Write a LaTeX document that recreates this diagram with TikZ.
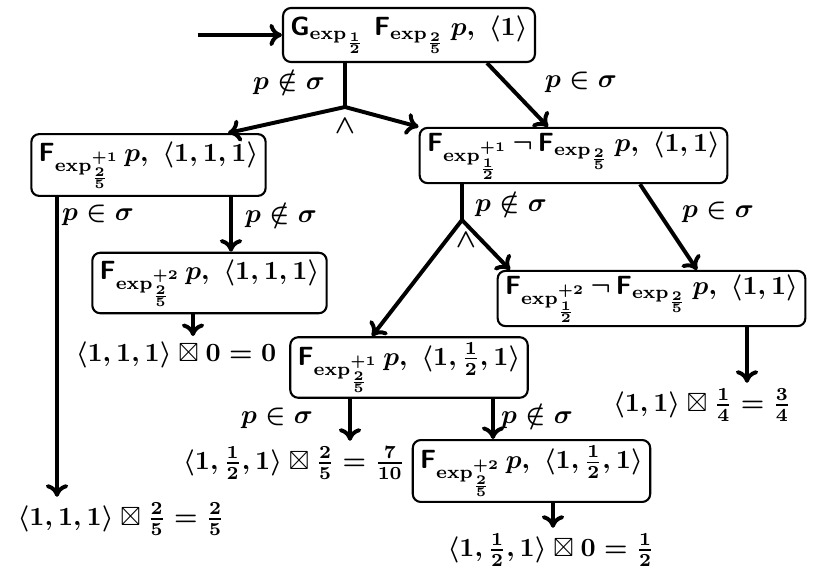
\documentclass[tikz,border=0pt]{standalone}
\usepackage{amssymb}
\usetikzlibrary{arrows.meta}
\begin{document}
\begin{tikzpicture}[x=0.38pt,y=-0.38pt,font=\boldmath,
  box/.style={draw,rounded corners=3pt,line width=0.8pt,inner xsep=2.8pt,inner ysep=1pt},
  res/.style={inner sep=2pt},
  lbl/.style={inner sep=0pt},
  ln/.style={line width=1.5pt},
  arr/.style={line width=1.5pt,-{To[length=4.8pt,width=8.5pt]}}]
\useasboundingbox (0,0) rectangle (830,587);
% nodes
\node[box,minimum height=20.5pt] (T) at (409,35) {$\mathsf{G}_{\exp_{\frac12}}\ \mathsf{F}_{\exp_{\frac25}}\,p,\ \langle 1\rangle$};
\node[box,minimum height=23.5pt] (L1) at (148.5,165) {$\mathsf{F}_{\exp^{+1}_{\frac25}}\,p,\ \langle 1,1,1\rangle$};
\node[box,minimum height=21pt] (R1) at (573.5,155.5) {$\mathsf{F}_{\exp^{+1}_{\frac12}}\,\neg\,\mathsf{F}_{\exp_{\frac25}}\,p,\ \langle 1,1\rangle$};
\node[box,minimum height=23pt] (L2) at (209.5,283) {$\mathsf{F}_{\exp^{+2}_{\frac25}}\,p,\ \langle 1,1,1\rangle$};
\node[box,minimum height=21pt] (R2) at (651.5,298.5) {$\mathsf{F}_{\exp^{+2}_{\frac12}}\,\neg\,\mathsf{F}_{\exp_{\frac25}}\,p,\ \langle 1,1\rangle$};
\node[box,minimum height=23pt] (M1) at (409,367.5) {$\mathsf{F}_{\exp^{+1}_{\frac25}}\,p,\ \langle 1,\frac12,1\rangle$};
\node[box,minimum height=23.5pt] (M2) at (531.5,471) {$\mathsf{F}_{\exp^{+2}_{\frac25}}\,p,\ \langle 1,\frac12,1\rangle$};
% results
\node[res] (r1) at (176,355) {$\langle 1,1,1\rangle\boxtimes 0 = 0$};
\node[res] (r2) at (121,519) {$\langle 1,1,1\rangle\boxtimes \frac25 = \frac25$};
\node[res] (r3) at (294,463) {$\langle 1,\frac12,1\rangle\boxtimes \frac25 = \frac{7}{10}$};
\node[res] (r4) at (702,405) {$\langle 1,1\rangle\boxtimes \frac14 = \frac34$};
\node[res] (r5) at (551,550) {$\langle 1,\frac12,1\rangle\boxtimes 0 = \frac12$};
% labels
\node[lbl] (l1) at (289,82) {$p\notin\sigma$};
\node[lbl] (l2) at (581,82) {$p\in\sigma$};
\node[lbl] (l3) at (98,215) {$p\in\sigma$};
\node[lbl] (l4) at (281,215) {$p\notin\sigma$};
\node[lbl] (l5) at (511,204) {$p\notin\sigma$};
\node[lbl] (l6) at (718,212) {$p\in\sigma$};
\node[lbl] (l7) at (277,418) {$p\in\sigma$};
\node[lbl] (l8) at (537,416) {$p\notin\sigma$};
\node[lbl] (w1) at (345,126) {$\wedge$};
\node[lbl] (w2) at (466,240) {$\wedge$};
% junctions
\coordinate (J1) at (345,107);
\coordinate (J2) at (462,220);
\coordinate (S) at (198,35);
% edges
\draw[arr] (S) -- (T.west);
\draw[ln] (T.south -| J1) -- (J1);
\draw[arr] (J1) -- (L1.north -| 228,0);
\draw[arr] (J1) -- (R1.north west);
\draw[arr] (T.south -| 487,0) -- (R1.north -| 548,0);
\draw[arr] (L1.south -| 57,0) -- (r2.north -| 57,0);
\draw[arr] (L1.south -| 231,0) -- (L2.north -| 231,0);
\draw[arr] (L2.south -| 193,0) -- (r1.north -| 193,0);
\draw[ln] (R1.south -| J2) -- (J2);
\draw[arr] (J2) -- (M1.north -| 372,0);
\draw[arr] (J2) -- (R2.north -| 510,0);
\draw[arr] (R1.south -| 640,0) -- (R2.north -| 697,0);
\draw[arr] (R2.south -| 747,0) -- (r4.north -| 747,0);
\draw[arr] (M1.south -| 350,0) -- (r3.north -| 350,0);
\draw[arr] (M1.south -| 493,0) -- (M2.north -| 493,0);
\draw[arr] (M2.south -| 553,0) -- (r5.north -| 553,0);
\end{tikzpicture}
\end{document}
